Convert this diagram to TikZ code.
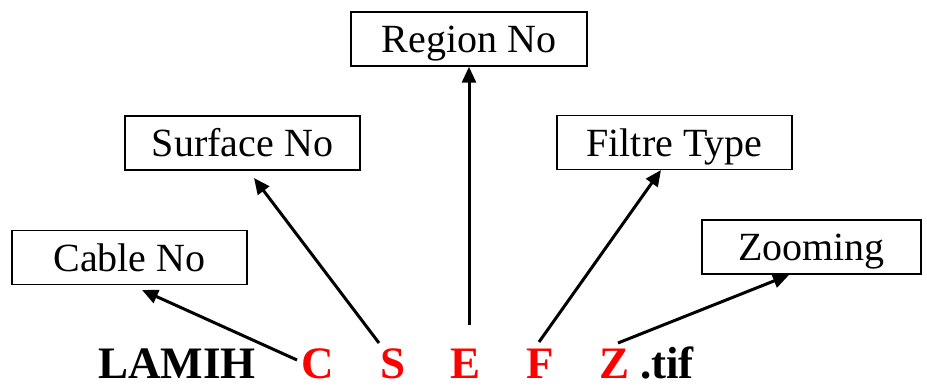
\documentclass[tikz,border=0pt]{standalone}
\usepackage{fontspec}
\setmainfont{Liberation Serif}
\usetikzlibrary{arrows.meta}
\begin{document}
\begin{tikzpicture}[x=1pt,y=1pt,
  lab/.style={draw=black,line width=1.5pt,minimum height=54pt,inner sep=0pt,
    text height=33pt,text depth=5pt,
    font=\fontsize{40}{42}\selectfont},
  letter/.style={anchor=base,inner sep=0pt,font=\fontsize{45}{47}\selectfont\bfseries},
  arr/.style={line width=3pt,-{Triangle[length=16pt,width=14pt]}}]
\useasboundingbox (0,0) rectangle (927,-387);
\node[lab,minimum width=235pt] (cable) at (129.5,-257.5) {Cable No};
\node[lab,minimum width=235pt] (surface) at (242.5,-143) {Surface No};
\node[lab,minimum width=236pt] (region) at (469,-39) {Region No};
\node[lab,minimum width=235pt] (filtre) at (674.5,-142.5) {Filtre Type};
\node[lab,minimum width=219pt] (zoom) at (811.5,-247) {Zooming};
\node[letter,anchor=base west] (lamih) at (98,-379) {LAMIH};
\node[letter,text=red] (C) at (318,-379) {C};
\node[letter,text=red] (S) at (393,-379) {S};
\node[letter,text=red] (E) at (466,-379) {E};
\node[letter,text=red] (F) at (540,-379) {F};
\node[letter,text=red] (Z) at (615,-379) {Z};
\node[letter,anchor=base west] (tif) at (640,-379) {.tif};
\coordinate (cT) at (297,-360);
\coordinate (cH) at (142,-290);
\coordinate (sT) at (379,-343);
\coordinate (sH) at (254,-178);
\coordinate (eT) at (469,-325);
\coordinate (fT) at (539,-342);
\coordinate (fH) at (661,-170);
\coordinate (zT) at (618,-343);
\coordinate (zH) at (789,-275);
\draw[arr] (cT) -- (cH);
\draw[arr] (sT) -- (sH);
\draw[arr] (eT) -- (region.south);
\draw[arr] (fT) -- (fH);
\draw[arr] (zT) -- (zH);
\end{tikzpicture}
\end{document}
